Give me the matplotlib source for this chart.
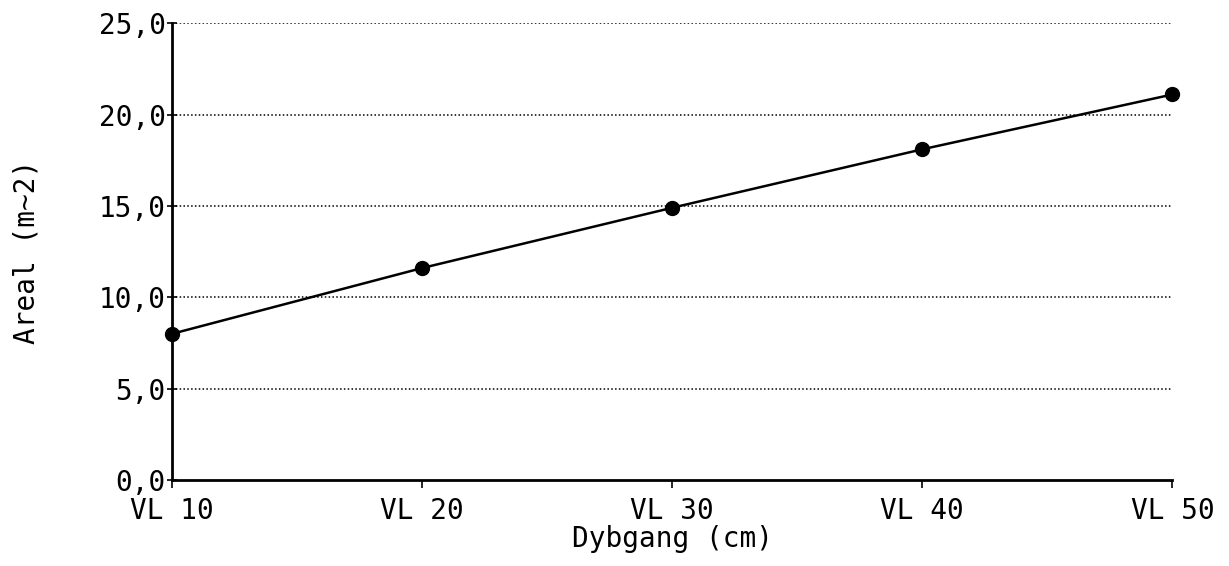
import matplotlib.pyplot as plt

categories = ['VL 10', 'VL 20', 'VL 30', 'VL 40', 'VL 50']
areal = [8.0, 11.6, 14.9, 18.1, 21.1]
y_ticks = [0, 5, 10, 15, 20, 25]
y_tick_labels = ['0,0', '5,0', '10,0', '15,0', '20,0', '25,0']

plt.rcParams['font.family'] = ['DejaVu Sans Mono', 'DejaVu Sans']

fig = plt.figure(figsize=(12.29, 5.66), dpi=100)
ax = fig.add_axes([0.140, 0.152, 0.814, 0.807])

x = list(range(len(categories)))
ax.plot(x, areal, color='black', linewidth=1.8, marker='o', markersize=10,
        clip_on=False, zorder=3)

ax.set_xlim(0, len(categories) - 1)
ax.set_ylim(0, 25)
ax.set_xticks(x)
ax.set_xticklabels(categories, fontsize=20)
ax.set_yticks(y_ticks)
ax.set_yticklabels(y_tick_labels, fontsize=20)

for t in y_ticks[1:]:
    ax.axhline(t, color='black', linestyle=(0, (1, 1.5)), linewidth=1.1, zorder=1)

ax.spines['top'].set_visible(False)
ax.spines['right'].set_visible(False)
ax.spines['left'].set_linewidth(2)
ax.spines['bottom'].set_linewidth(2)
ax.tick_params(axis='y', direction='inout', length=7, width=1.2, pad=1)
ax.tick_params(axis='x', direction='out', length=6, width=1.2, pad=6)

ax.set_xlabel('Dybgang (cm)', fontsize=20, labelpad=0)
ax.set_ylabel('Areal (m~2)', fontsize=20, labelpad=42)

fig.savefig('out.png', dpi=100, facecolor='white')
